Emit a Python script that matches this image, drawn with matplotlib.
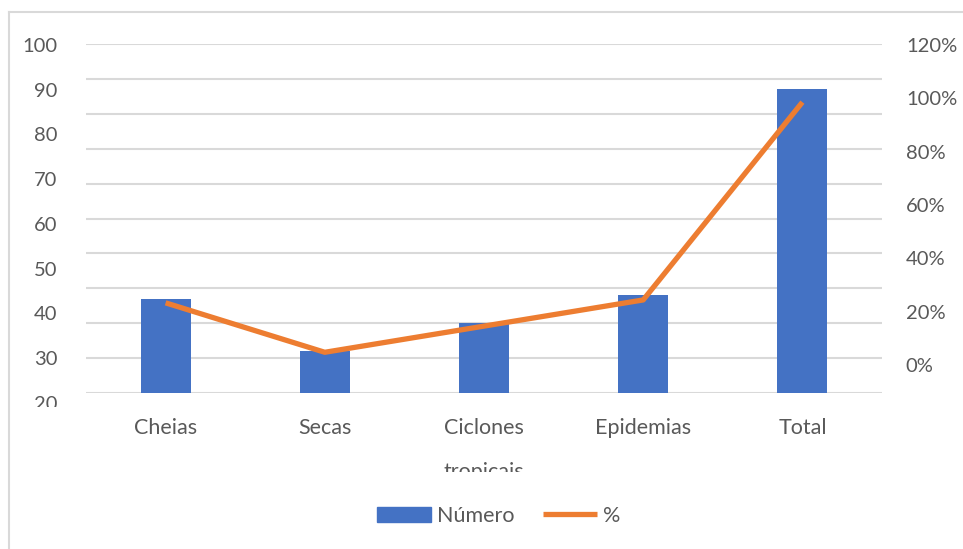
import matplotlib
matplotlib.use('Agg')
import matplotlib.pyplot as plt
from matplotlib.lines import Line2D
from matplotlib.patches import Patch
from matplotlib.transforms import Bbox

categories = ['Cheias', 'Secas', 'Ciclones\ntropicais', 'Epidemias', 'Total']
numero = [27, 12, 20, 28, 87]
percent = [0.31, 0.14, 0.23, 0.32, 1.00]
left_ticks = [20, 30, 40, 50, 60, 70, 80, 90, 100]
right_ticks = [0, 0.2, 0.4, 0.6, 0.8, 1.0, 1.2]

BLUE = '#4472C4'
ORANGE = '#ED7D31'
GRID = '#d9d9d9'
TEXT = '#595959'
FONT = 'Lato'
FS_AX = 14.5
FS_CAT = 15.5

W, H = 963, 549
fig = plt.figure(figsize=(W / 100, H / 100), dpi=100)
plt.rcParams['font.family'] = [FONT, 'DejaVu Sans']

# chart frame (light border, top and left visible)
fig.add_artist(Line2D([9 / W, 9 / W], [0, 1 - 12 / H], color=GRID, lw=1.5))
fig.add_artist(Line2D([9 / W, 1], [1 - 12 / H, 1 - 12 / H], color=GRID, lw=1.5))

# plot area
x0, x1, ytop, ybot = 86, 882, 44, 393
ax = fig.add_axes([x0 / W, 1 - ybot / H, (x1 - x0) / W, (ybot - ytop) / H])
ax.set_ylim(0, 100)
ax.set_yticks(range(0, 101, 10))
ax.yaxis.grid(True, color=GRID, lw=1.5)
ax.set_axisbelow(True)
for s in ax.spines.values():
    s.set_visible(False)

xs = list(range(len(categories)))
ax.bar(xs, numero, width=0.314, color=BLUE, zorder=2)
ax.set_xlim(-0.5, len(categories) - 0.5)
ax.set_xticks(xs)

ax2 = ax.twinx()
ax2.set_ylim(0, 1.2)
for s in ax2.spines.values():
    s.set_visible(False)
ax2.tick_params(right=False, labelright=False, left=False, labelleft=False)
ax2.plot(xs, percent, color=ORANGE, lw=3.8, solid_capstyle='butt', zorder=3)

ax.tick_params(left=False, labelleft=False, right=False, bottom=False)
ax.set_xticklabels(categories, fontsize=FS_CAT, color=TEXT, linespacing=2.5,
                   va='top')
ax.tick_params(axis='x', pad=14.5)
clip = Bbox([[0, H - 472], [W, H]])
for lab in ax.get_xticklabels():
    lab.set_clip_box(clip)
    lab.set_clip_on(True)

# left value labels (as rendered in the original, offset from the grid)
axl = fig.add_axes([x0 / W, 1 - 403 / H, 0.01, (403 - 45) / H])
axl.set_ylim(20, 100)
axl.set_yticks(left_ticks)
axl.set_yticklabels([str(v) for v in left_ticks], fontsize=FS_AX, color=TEXT)
axl.tick_params(left=False, bottom=False, labelbottom=False, pad=24 * 0.72)
axl.patch.set_visible(False)
for s in axl.spines.values():
    s.set_visible(False)
clip_l = Bbox([[0, H - 407], [W, H]])
for lab in axl.get_yticklabels():
    lab.set_clip_box(clip_l)
    lab.set_clip_on(True)

# right percent labels
axr = fig.add_axes([x1 / W - 0.01, 1 - 365 / H, 0.01, (365 - 45) / H])
axr.set_ylim(0, 1.2)
axr.set_yticks(right_ticks)
axr.set_yticklabels([f'{round(v * 100)}%' for v in right_ticks], fontsize=FS_AX, color=TEXT)
axr.yaxis.tick_right()
axr.tick_params(right=False, left=False, bottom=False, labelbottom=False,
                labelleft=False, labelright=True, pad=19 * 0.72)
axr.patch.set_visible(False)
for s in axr.spines.values():
    s.set_visible(False)

handles = [Patch(color=BLUE, label='Número'),
           Line2D([0], [0], color=ORANGE, lw=3.8, solid_capstyle='butt', label='%')]
fig.legend(handles=handles, loc='center', bbox_to_anchor=(0.518, 33 / H), ncol=2,
           frameon=False, fontsize=FS_CAT, handlelength=2.5, handletextpad=0.3,
           columnspacing=1.3, labelcolor=TEXT)

fig.savefig('out.png', dpi=100)
